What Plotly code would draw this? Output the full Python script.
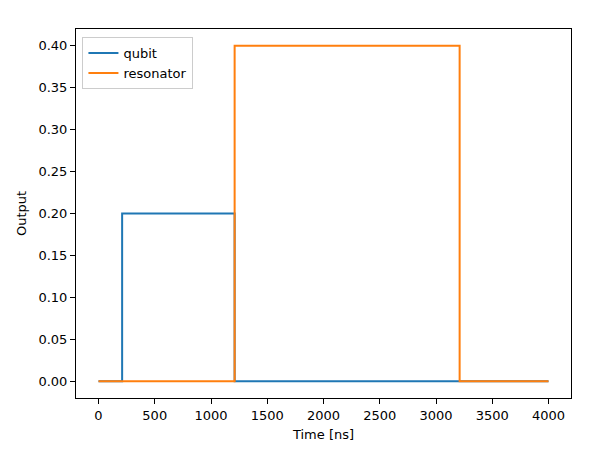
import plotly.graph_objects as go

# step breakpoints (ns) and levels
qubit_t = [0, 210, 1210, 4000]
qubit_v = [0.0, 0.2, 0.0, 0.0]
resonator_t = [0, 1210, 3210, 4000]
resonator_v = [0.0, 0.4, 0.0, 0.0]

x_ticks = [0, 500, 1000, 1500, 2000, 2500, 3000, 3500, 4000]
y_ticks = [0.0, 0.05, 0.10, 0.15, 0.20, 0.25, 0.30, 0.35, 0.40]

fig = go.Figure()
fig.add_trace(go.Scatter(x=qubit_t, y=qubit_v, mode="lines", line_shape="hv",
                         name="qubit", line=dict(color="#1f77b4", width=2)))
fig.add_trace(go.Scatter(x=resonator_t, y=resonator_v, mode="lines", line_shape="hv",
                         name="resonator", line=dict(color="#ff7f0e", width=2)))

axis_style = dict(showgrid=False, zeroline=False, showline=True, linecolor="black",
                  linewidth=1, mirror=True, ticks="outside", ticklen=5,
                  tickcolor="black", automargin=False,
                  tickfont=dict(size=13, color="black"))

# the page body keeps its default 8px margin, so the figure is drawn a bit smaller
fig.update_layout(
    width=598, height=444,
    margin=dict(l=68, r=35, t=21, b=54),
    paper_bgcolor="white", plot_bgcolor="white",
    font=dict(family="DejaVu Sans", size=13, color="black"),
    showlegend=True,
    legend=dict(x=0.013, y=0.978, xanchor="left", yanchor="top",
                bgcolor="rgba(255,255,255,0.8)", bordercolor="#cccccc",
                borderwidth=1, font=dict(size=13), itemwidth=30,
                tracegroupgap=0),
    xaxis=dict(range=[-200, 4200], tickvals=x_ticks,
               title=dict(text="Time [ns]", standoff=8, font=dict(size=13)),
               **axis_style),
    yaxis=dict(range=[-0.02, 0.42], tickvals=y_ticks, tickformat=".2f",
               title=dict(text="Output", standoff=8, font=dict(size=13)),
               **axis_style),
)

fig.write_html("out.html")
